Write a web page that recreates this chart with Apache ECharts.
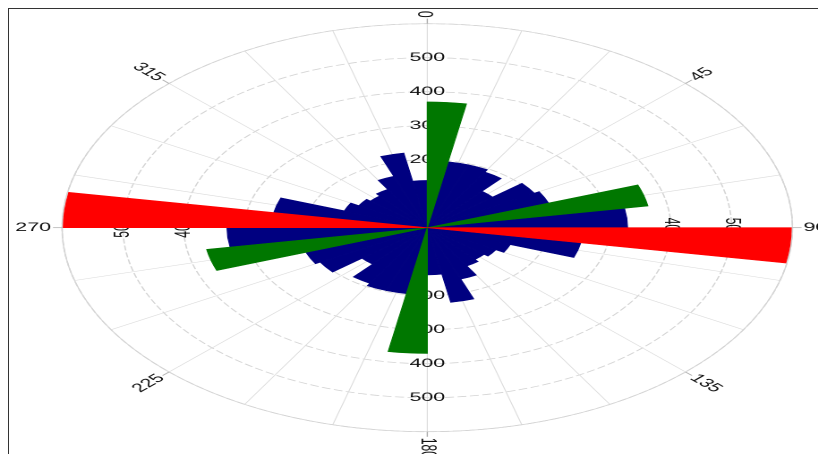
<!DOCTYPE html>
<html>
<head>
<meta charset="utf-8">
<script src="https://cdn.jsdelivr.net/npm/echarts@6/dist/echarts.min.js"></script>
<style>
html, body { margin: 0; padding: 0; background: #fff; overflow: hidden; }
#main { position: absolute; left: 0; top: 0; width: 457px; height: 454px; transform: scaleX(1.79); transform-origin: 0 0; }
#frame { position: absolute; left: 8px; top: 8px; width: 900px; height: 500px; border-top: 1px solid #333; border-left: 1px solid #333; }
</style>
</head>
<body>
<div id="main"></div>
<div id="frame"></div>
<script>
// 10 degree bins, start angle of each bin
var bins = [0, 10, 20, 30, 40, 50, 60, 70, 80, 90, 100, 110, 120, 130, 140, 150, 160, 170,
	180, 190, 200, 210, 220, 230, 240, 250, 260, 270, 280, 290, 300, 310, 320, 330, 340, 350];

var blueValues = [0, 197, 197, 189, 140, 203, 212, 0, 329, 0, 256, 145, 130, 122, 130, 161, 223, 139,
	0, 197, 197, 189, 140, 203, 212, 0, 329, 0, 256, 145, 130, 122, 130, 161, 223, 139];
var greenValues = [370, 0, 0, 0, 0, 0, 0, 368, 0, 0, 0, 0, 0, 0, 0, 0, 0, 0,
	370, 0, 0, 0, 0, 0, 0, 368, 0, 0, 0, 0, 0, 0, 0, 0, 0, 0];
var redValues = [0, 0, 0, 0, 0, 0, 0, 0, 0, 598, 0, 0, 0, 0, 0, 0, 0, 0,
	0, 0, 0, 0, 0, 0, 0, 0, 0, 598, 0, 0, 0, 0, 0, 0, 0, 0];

var angleLabels = [0, 45, 90, 135, 180, 225, 270, 315];
var radiusLabels = [100, 200, 300, 400, 500];
var radiusLabelAngles = [0, 90, 180, 270];

var FONT = '12px "Liberation Sans", Arial, sans-serif';

// empty bins become '-' so they draw nothing
var toBars = function(values){
	return values.map(function(v, i){ return [v || '-', bins[i] + 5]; });
};

var radiusLabelData = [];
radiusLabelAngles.forEach(function(a){
	radiusLabels.forEach(function(v){ radiusLabelData.push([v, a]); });
});

var renderAngleLabel = function(params, api){
	var r = api.value(0), a = api.value(1);
	var p0 = api.coord([r, a]);
	var p1 = api.coord([r + 15, a]);
	var p2 = api.coord([r + 18, a]);
	var right = a <= 180;
	var rot = right ? (90 - a) : (270 - a);
	return {
		type: 'group',
		children: [{
			type: 'line',
			shape: { x1: p0[0], y1: p0[1], x2: p1[0], y2: p1[1] },
			style: { stroke: '#aaa', lineWidth: 0.7 }
		}, {
			type: 'text',
			x: p2[0], y: p2[1],
			rotation: rot * Math.PI / 180,
			style: { text: String(a), align: right ? 'left' : 'right', verticalAlign: 'middle', font: FONT, fill: '#111' }
		}]
	};
};

var renderRadiusLabel = function(params, api){
	var v = api.value(0), a = api.value(1);
	var p = api.coord([v, a]);
	var rot = a === 90 ? -90 : (a === 270 ? 90 : 0);
	return {
		type: 'text',
		x: p[0], y: p[1],
		rotation: rot * Math.PI / 180,
		style: { text: String(v), align: 'center', verticalAlign: 'middle', font: FONT, fill: '#111' }
	};
};

var barSeries = function(values, color){
	return {
		type: 'bar', coordinateSystem: 'polar', stack: 'rose', barCategoryGap: '0%', z: 3,
		data: toBars(values),
		itemStyle: { color: color, borderColor: color, borderWidth: 0.6 }
	};
};

var chart = echarts.init(document.getElementById('main'), null, { devicePixelRatio: 2 });
chart.setOption({
	animation: false,
	polar: { center: [238.7, 227.7], radius: 204 },
	angleAxis: {
		type: 'value', min: 0, max: 360, interval: 15,
		startAngle: 90, clockwise: true,
		axisLine: { show: true, lineStyle: { color: '#d4d4d4', width: 0.7 } },
		axisTick: { show: false },
		axisLabel: { show: false },
		splitLine: { show: true, lineStyle: { color: '#dcdcdc', width: 0.6 } }
	},
	radiusAxis: {
		type: 'value', min: 0, max: 600, interval: 100,
		axisLine: { show: false },
		axisTick: { show: false },
		axisLabel: { show: false },
		splitLine: { show: true, lineStyle: { color: '#d4d4d4', width: 0.8, type: [5, 2] } }
	},
	series: [
		barSeries(blueValues, '#000080'),
		barSeries(greenValues, '#007700'),
		barSeries(redValues, '#ff0000'),
		{ type: 'custom', coordinateSystem: 'polar', z: 1, silent: true, clip: false,
			data: angleLabels.map(function(a){ return [600, a]; }), renderItem: renderAngleLabel },
		{ type: 'custom', coordinateSystem: 'polar', z: 1, silent: true, clip: false,
			data: radiusLabelData, renderItem: renderRadiusLabel }
	]
});
</script>
</body>
</html>
